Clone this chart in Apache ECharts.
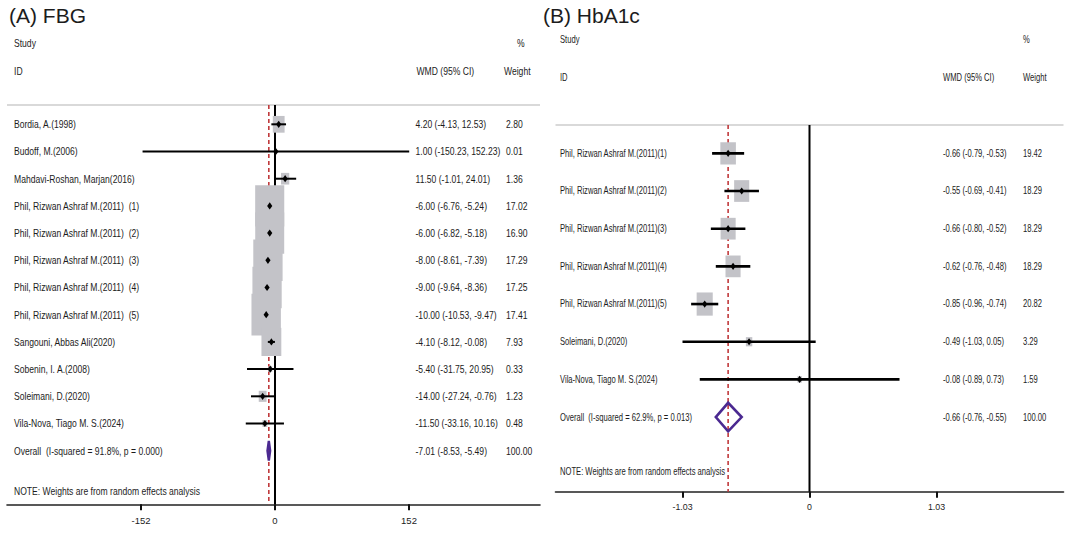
<!DOCTYPE html>
<html>
<head>
<meta charset="utf-8">
<script src="https://cdn.jsdelivr.net/npm/echarts@6/dist/echarts.min.js"></script>
<style>
html,body{margin:0;padding:0;background:#fff;}
#chart{width:1080px;height:533px;}
</style>
</head>
<body>
<div id="chart"></div>
<script>
// ---------- DATA ----------
const fbgStudies = [
  'Bordia, A.(1998)', 'Budoff, M.(2006)', 'Mahdavi-Roshan, Marjan(2016)',
  'Phil, Rizwan Ashraf M.(2011)  (1)', 'Phil, Rizwan Ashraf M.(2011)  (2)',
  'Phil, Rizwan Ashraf M.(2011)  (3)', 'Phil, Rizwan Ashraf M.(2011)  (4)',
  'Phil, Rizwan Ashraf M.(2011)  (5)', 'Sangouni, Abbas Ali(2020)',
  'Sobenin, I. A.(2008)', 'Soleimani, D.(2020)', 'Vila-Nova, Tiago M. S.(2024)'
];
const fbgWmd    = [4.20, 1.00, 11.50, -6.00, -6.00, -8.00, -9.00, -10.00, -4.10, -5.40, -14.00, -11.50];
const fbgLower  = [-4.13, -150.23, -1.01, -6.76, -6.82, -8.61, -9.64, -10.53, -8.12, -31.75, -27.24, -33.16];
const fbgUpper  = [12.53, 152.23, 24.01, -5.24, -5.18, -7.39, -8.36, -9.47, -0.08, 20.95, -0.76, 10.16];
const fbgWeight = [2.80, 0.01, 1.36, 17.02, 16.90, 17.29, 17.25, 17.41, 7.93, 0.33, 1.23, 0.48];
const fbgOverall = [-7.01, -8.53, -5.49, 100.00];
const fbgOverallLabel = 'Overall  (I-squared = 91.8%, p = 0.000)';
const fbgTicks = [-152, 0, 152];

const hbaStudies = [
  'Phil, Rizwan Ashraf M.(2011)(1)', 'Phil, Rizwan Ashraf M.(2011)(2)',
  'Phil, Rizwan Ashraf M.(2011)(3)', 'Phil, Rizwan Ashraf M.(2011)(4)',
  'Phil, Rizwan Ashraf M.(2011)(5)', 'Soleimani, D.(2020)', 'Vila-Nova, Tiago M. S.(2024)'
];
const hbaWmd    = [-0.66, -0.55, -0.66, -0.62, -0.85, -0.49, -0.08];
const hbaLower  = [-0.79, -0.69, -0.80, -0.76, -0.96, -1.03, -0.89];
const hbaUpper  = [-0.53, -0.41, -0.52, -0.48, -0.74, 0.05, 0.73];
const hbaWeight = [19.42, 18.29, 18.29, 18.29, 20.82, 3.29, 1.59];
const hbaOverall = [-0.66, -0.76, -0.55, 100.00];
const hbaOverallLabel = 'Overall  (I-squared = 62.9%, p = 0.013)';
const hbaTicks = [-1.03, 0, 1.03];

// ---------- STYLE ----------
const FONT = "'Liberation Sans',Arial,sans-serif";
const TXT = '#1c1c1c';
const BOXC = '#c3c3c8';
const PURPLE = '#4b2991';
const REDD = '#c0393b';

const panels = [
  { studies: fbgStudies, wmd: fbgWmd, lo: fbgLower, hi: fbgUpper, w: fbgWeight,
    overall: fbgOverall, overallLabel: fbgOverallLabel, ticks: fbgTicks,
    min: -304, max: 300.6, grid: {left: 7, top: 105, width: 533, height: 399.3},
    ymin: -0.71, ymax: 13.97, fs: 11, sx: 0.78, nameX: 14, ciX: 415.5, wX: 506,
    bw: 7.05, bh: 10.0, dh: 9.8, ciW: 2, lineW: 2, dStroke: 2.4 },
  { studies: hbaStudies, wmd: hbaWmd, lo: hbaLower, hi: hbaUpper, w: hbaWeight,
    overall: hbaOverall, overallLabel: hbaOverallLabel, ticks: hbaTicks,
    min: -2.06, max: 2.06, grid: {left: 555.5, top: 125, width: 508, height: 366.7},
    ymin: -0.752, ymax: 8.98, fs: 10.3, sx: 0.74, nameX: 560, ciX: 943, wX: 1023,
    bw: 3.53, bh: 5.08, dh: 14.3, ciW: 2.6, lineW: 2, dStroke: 2.6 }
];

function fmt(v){ return v.toFixed(2); }

function stext(text, x, y, fs, sx){
  return {type: 'text', x: x, y: y, scaleX: sx, scaleY: 1, silent: true,
    style: {text: text, x: 0, y: 0, fill: TXT, fontSize: fs, fontFamily: FONT,
      verticalAlign: 'middle', align: 'left'}};
}

function refRender(p){
  return function(params, api){
    const xv = api.value(0);
    const x = api.coord([xv, 0])[0];
    const cs = params.coordSys;
    const isZero = params.dataIndex === 0;
    return {
      type: 'line',
      shape: {x1: x, y1: cs.y, x2: x, y2: cs.y + cs.height},
      style: isZero ? {stroke: '#000', lineWidth: p.lineW}
                    : {stroke: REDD, lineWidth: 1.6, lineDash: [4, 3]}
    };
  };
}

function rowRender(p){
  return function(params, api){
    const i = api.value(0), est = api.value(1), lo = api.value(2), hi = api.value(3), w = api.value(4);
    const pe = api.coord([est, i]);
    const pl = api.coord([lo, i]);
    const ph = api.coord([hi, i]);
    const y = pe[1];
    const isOverall = i === p.studies.length;
    const children = [];
    const label = isOverall ? p.overallLabel : p.studies[i];
    if (isOverall) {
      children.push({
        type: 'polygon',
        shape: {points: [[pl[0], y], [pe[0], y - p.dh], [ph[0], y], [pe[0], y + p.dh]]},
        style: {fill: 'none', stroke: PURPLE, lineWidth: p.dStroke, lineJoin: 'miter'}
      });
    } else {
      const bw = p.bw * Math.sqrt(w), bh = p.bh * Math.sqrt(w);
      children.push({type: 'rect', shape: {x: pe[0] - bw / 2, y: y - bh / 2, width: bw, height: bh},
        style: {fill: BOXC}});
      children.push({type: 'line', shape: {x1: pl[0], y1: y, x2: ph[0], y2: y},
        style: {stroke: '#000', lineWidth: p.ciW}});
      children.push({type: 'polygon',
        shape: {points: [[pe[0] - 2.6, y], [pe[0], y - 3.6], [pe[0] + 2.6, y], [pe[0], y + 3.6]]},
        style: {fill: '#000'}});
    }
    children.push(stext(label, p.nameX, y, p.fs, p.sx));
    children.push(stext(fmt(est) + ' (' + fmt(lo) + ', ' + fmt(hi) + ')', p.ciX, y, p.fs, p.sx));
    children.push(stext(fmt(w), p.wX, y, p.fs, p.sx));
    return {type: 'group', children: children};
  };
}

const grids = [], xAxes = [], yAxes = [], series = [];
panels.forEach((p, k) => {
  grids.push(Object.assign({containLabel: false}, p.grid));
  xAxes.push({
    type: 'value', gridIndex: k, min: p.min, max: p.max, position: 'bottom',
    splitLine: {show: false},
    axisLine: {show: true, onZero: false, lineStyle: {color: '#222', width: 1.6}},
    axisTick: {show: true, customValues: p.ticks, length: 6, lineStyle: {color: '#111', width: 2}},
    axisLabel: {show: true, customValues: p.ticks, margin: 11, fontSize: p.fs - 1.5, fontFamily: FONT, color: TXT,
      formatter: v => String(v)}
  });
  yAxes.push({type: 'value', gridIndex: k, inverse: true, min: p.ymin, max: p.ymax, show: false});
  series.push({
    type: 'custom', xAxisIndex: k, yAxisIndex: k, z: 1, silent: true, clip: false,
    renderItem: refRender(p),
    data: [[0], [p.overall[0]]]
  });
  const rows = p.studies.map((s, i) => [i, p.wmd[i], p.lo[i], p.hi[i], p.w[i]]);
  rows.push([p.studies.length, p.overall[0], p.overall[1], p.overall[2], p.overall[3]]);
  series.push({
    type: 'custom', xAxisIndex: k, yAxisIndex: k, z: 2, silent: true, clip: false,
    renderItem: rowRender(p), data: rows
  });
});

function hline(x1, x2, y, color, w){
  return {type: 'line', silent: true, shape: {x1: x1, y1: y, x2: x2, y2: y}, style: {stroke: color, lineWidth: w}};
}
const L = panels[0], R = panels[1];
const graphic = [
  stext('(A) FBG', 9, 15, 21, 1),
  stext('Study', 14, 43, L.fs, L.sx), stext('%', 517, 43, L.fs, L.sx),
  stext('ID', 14, 71, L.fs, L.sx), stext('WMD (95% CI)', 416.5, 71, L.fs, L.sx), stext('Weight', 504, 71, L.fs, L.sx),
  hline(7, 540, 105, '#b4b4b4', 1.2),
  stext('NOTE: Weights are from random effects analysis', 14, 491, L.fs, L.sx),

  stext('(B) HbA1c', 543, 15, 21, 1),
  stext('Study', 560, 40, R.fs, R.sx), stext('%', 1023, 40, R.fs, R.sx),
  stext('ID', 560, 78, R.fs, R.sx), stext('WMD (95% CI)', 943, 78, R.fs, R.sx), stext('Weight', 1023, 78, R.fs, R.sx),
  hline(555.5, 1063.5, 125, '#b4b4b4', 1.2),
  stext('NOTE: Weights are from random effects analysis', 560, 472, R.fs, R.sx)
];

const chart = echarts.init(document.getElementById('chart'), null, {renderer: 'svg'});
chart.setOption({
  animation: false,
  backgroundColor: '#fff',
  grid: grids, xAxis: xAxes, yAxis: yAxes, series: series, graphic: graphic
});
</script>
</body>
</html>
